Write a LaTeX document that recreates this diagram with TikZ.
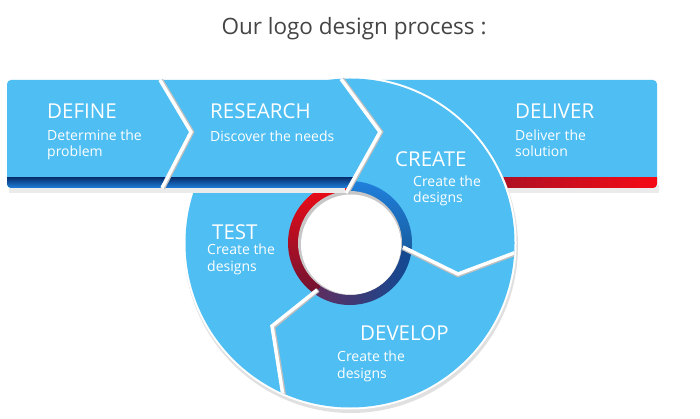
\documentclass[tikz,border=0pt]{standalone}
\usepackage{fontspec}
\setmainfont{Open Sans}
\usetikzlibrary{calc}

\definecolor{barblue}{RGB}{79,190,242}
\definecolor{stripedark}{RGB}{8,52,118}
\definecolor{stripeblue}{RGB}{32,128,220}
\definecolor{stripered}{RGB}{245,10,20}
\definecolor{stripemaroon}{RGB}{110,20,50}
\definecolor{ringpurple}{RGB}{95,45,95}
\definecolor{titlegray}{RGB}{68,68,68}

\begin{document}
\begin{tikzpicture}[x=1pt,y=1pt,
    stagehead/.style={anchor=base west, inner sep=0pt, text=white, font=\fontsize{20.5}{23}\selectfont},
    stagetext/.style={anchor=base west, inner sep=0pt, text=white, align=left, font=\fontsize{14}{16.5}\selectfont},
    gap/.style={draw=white, line width=3.5pt},
    gapshadow/.style={draw=black!25, line width=4.5pt}]

    \useasboundingbox (0,0) rectangle (700,-419);

    % Circle centre and chevron points
    \coordinate (O) at (350,-243);
    \coordinate (BL) at (7,-80);
    \coordinate (BR) at (341,-80);
    \coordinate (BP) at (380,-132);
    \coordinate (BB) at (350,-188);
    \coordinate (BLB) at (7,-188);

    % Deliver bar (behind the circle)
    \fill[black!8] (364,-185) rectangle (659,-193);
    \fill[barblue, rounded corners=4pt] (360,-80) rectangle (657,-188);
    \begin{scope}
        \clip[rounded corners=4pt] (360,-80) rectangle (657,-188);
        \shade[left color=stripemaroon, right color=stripered] (360,-178) rectangle (657,-188);
    \end{scope}

    % Big circle
    \fill[black!12] ($(O)+(1,-3)$) circle[radius=167];
    \fill[white] (O) circle[radius=166.5];
    \fill[barblue] (O) circle[radius=164.5];

    % Ring round the hole
    \shade[top color=stripered, bottom color=stripemaroon] (O) -- ($(O)+(93:62)$) arc[start angle=93, end angle=236, radius=62] -- cycle;
    \shade[left color=ringpurple, right color=stripedark!70!stripeblue] (O) -- ($(O)+(236:62)$) arc[start angle=236, end angle=356, radius=62] -- cycle;
    \shade[top color=stripeblue, bottom color=stripeblue!75!black] (O) -- ($(O)+(-4:62)$) arc[start angle=-4, end angle=93, radius=62] -- cycle;

    % Hole
    \fill[black!22] (O) circle[radius=52];
    \fill[white] ($(O)+(1,-1.5)$) circle[radius=50];

    % Define / research bar
    \fill[black!8] (9,-185) rectangle (345,-193);
    \fill[barblue] (BR) -- (BP) -- (BB) [rounded corners=4pt] -- (BLB) -- (BL) [sharp corners] -- cycle;
    \begin{scope}
        \clip (BR) -- (BP) -- (BB) [rounded corners=4pt] -- (BLB) -- (BL) [sharp corners] -- cycle;
        \shade[top color=stripedark, bottom color=stripeblue] (0,-178) rectangle (400,-188);
    \end{scope}

    % Gaps between the stages
    \draw[gapshadow] (161,-80) -- (192,-132) -- (163,-188);
    \draw[gap] (160,-80) -- (191,-132) -- (162,-188);
    \draw[gapshadow] (342,-79) -- (381,-132) -- (347,-193);
    \draw[gap] (341,-79) -- (380,-132) -- (346,-193);
    \begin{scope}
        \clip (O) circle[radius=164.5];
        \draw[gapshadow] (403,-248) -- (458,-275) -- (522,-251);
        \draw[gap] (403,-247) -- (458,-274) -- (522,-250);
        \draw[gapshadow] (318,-290) -- (273,-327) -- (285,-402);
        \draw[gap] (317,-290) -- (272,-326) -- (284,-402);
    \end{scope}

    % Title
    \node[font=\fontsize{22.5}{26}\selectfont, text=titlegray, anchor=base, inner sep=0pt] (title) at (354,-35) {Our logo design process :};

    % Stage labels (two-line texts sit on their last baseline)
    \node[stagehead] (define) at (47,-119) {DEFINE};
    \node[stagetext] (defineText) at (47,-157) {Determine the\\problem};
    \node[stagehead] (research) at (210,-119) {RESEARCH};
    \node[stagetext] (researchText) at (210,-142) {Discover the needs};
    \node[stagehead] (deliver) at (515,-119) {DELIVER};
    \node[stagetext] (deliverText) at (515,-157) {Deliver the\\solution};
    \node[stagehead] (create) at (395,-167) {CREATE};
    \node[stagetext] (createText) at (413,-203) {Create the\\designs};
    \node[stagehead] (test) at (212,-240) {TEST};
    \node[stagetext] (testText) at (207,-271) {Create the\\designs};
    \node[stagehead] (develop) at (360,-340) {DEVELOP};
    \node[stagetext] (developText) at (337,-378) {Create the\\designs};
\end{tikzpicture}
\end{document}
